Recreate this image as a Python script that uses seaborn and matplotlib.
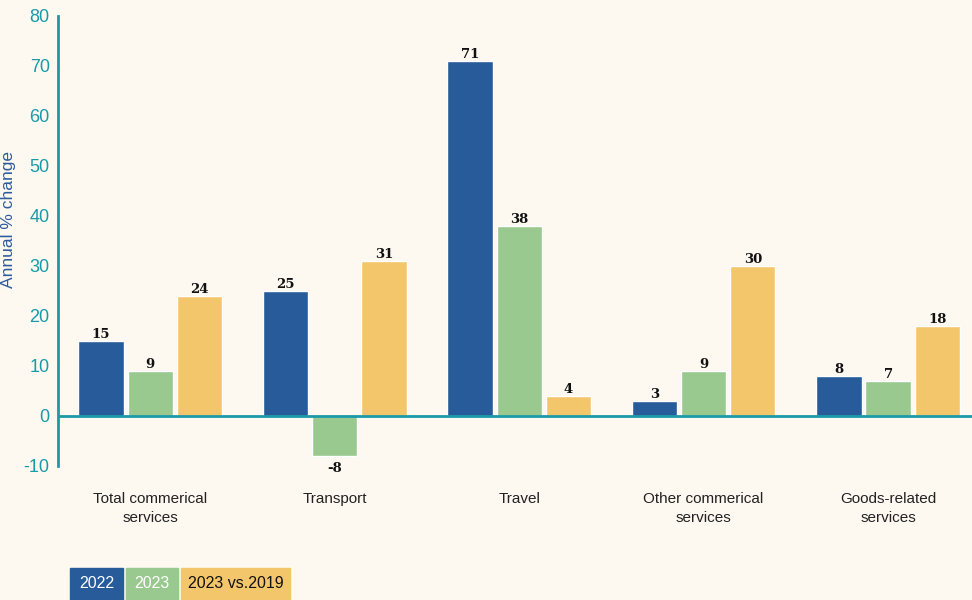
import matplotlib
matplotlib.use("Agg")
import matplotlib.pyplot as plt
import seaborn as sns
import pandas as pd

categories = ["Total commerical\nservices", "Transport", "Travel", "Other commerical\nservices", "Goods-related\nservices"]
series_names = ["2022", "2023", "2023 vs.2019"]
v2022 = [15, 25, 71, 3, 8]
v2023 = [9, -8, 38, 9, 7]
v2019 = [24, 31, 4, 30, 18]
yticks = [-10, 0, 10, 20, 30, 40, 50, 60, 70, 80]

colors = ["#275b9a", "#99c98e", "#f4c66b"]
bg = "#fdf8f0"
teal = "#1a9aa8"

rows = []
for name, vals in zip(series_names, [v2022, v2023, v2019]):
    for c, v in zip(categories, vals):
        rows.append({"category": c, "series": name, "value": v})
df = pd.DataFrame(rows)

sns.set_style("white")
plt.rcParams['font.family'] = ['Liberation Sans', 'DejaVu Sans']

fig = plt.figure(figsize=(9.72, 6.0), dpi=100, facecolor=bg)
ax = fig.add_axes([58/972, 134/600, 1 - 58/972, 450/600])
ax.set_facecolor(bg)

sns.barplot(data=df, x="category", y="value", hue="series", order=categories,
            hue_order=series_names, palette=colors, width=0.8, gap=0.08,
            saturation=1, ax=ax, legend=False, errorbar=None)

for cont in ax.containers:
    anns = ax.bar_label(cont, fmt="%d", padding=0, fontsize=9.5, fontweight="bold",
                        family="DejaVu Serif", color="#111111")
    for bar, ann in zip(cont, anns):
        if bar.get_height() < 0:
            ann.xyann = (0, -4)

ax.set_ylim(-10, 80)
ax.set_xlim(-0.5, 4.455)
ax.set_yticks(yticks)
ax.set_yticklabels([str(t) for t in yticks])
ax.tick_params(axis="y", length=0, colors=teal, labelsize=13, pad=6)
ax.tick_params(axis="x", length=0, labelsize=11, pad=19, colors="#222222")
for lab in ax.get_xticklabels():
    lab.set_linespacing(1.45)
ax.axhline(0, color=teal, lw=2, zorder=3)

for s in ["top", "right", "bottom"]:
    ax.spines[s].set_visible(False)
ax.spines["left"].set_color(teal)
ax.spines["left"].set_linewidth(2)

ax.set_xlabel("")
ax.set_ylabel("Annual % change", color="#2d5b9e", fontsize=12.5)
ax.yaxis.set_label_coords(-0.046, 0.547)

# legend boxes
lx = [70, 126, 181]
lw_ = [53, 52, 109]
tcol = ["white", "white", "#111111"]
for x0, w, c, t, name in zip(lx, lw_, colors, tcol, series_names):
    fig.patches.append(plt.Rectangle((x0/972, 0), w/972, 32/600, transform=fig.transFigure,
                                     color=c, zorder=1))
    fig.text((x0 + w/2)/972, 16/600, name, ha="center", va="center", color=t, fontsize=11.5)

fig.savefig("out.png", dpi=100, facecolor=bg)
